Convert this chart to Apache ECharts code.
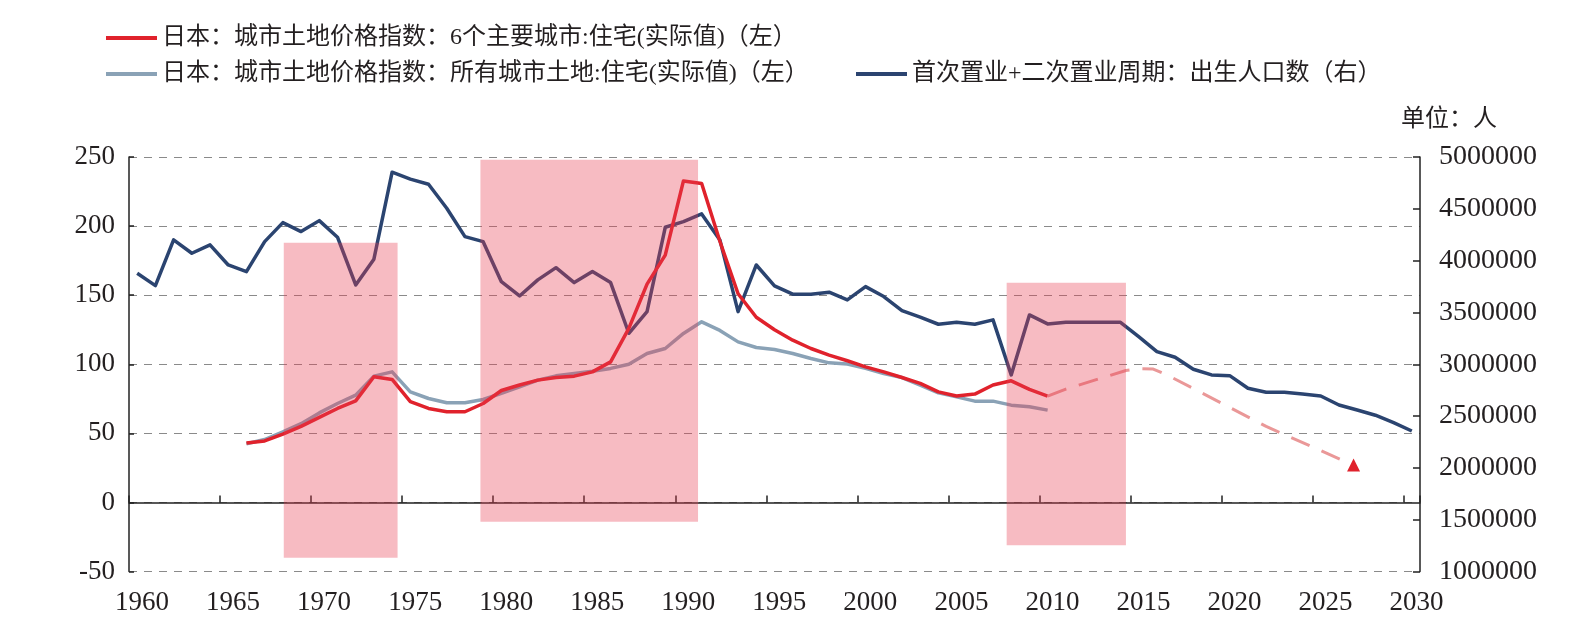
<!DOCTYPE html>
<html>
<head>
<meta charset="utf-8">
<script src="https://cdn.jsdelivr.net/npm/echarts@6/dist/echarts.min.js"></script>
<style>
  html, body { margin: 0; padding: 0; background: #fff; }
  #main { width: 1586px; height: 631px; }
</style>
</head>
<body>
<div id="main"></div>
<script>
  // 日本城市土地价格指数 (左轴)
  var landYears = [1966, 1967, 1968, 1969, 1970, 1971, 1972, 1973, 1974, 1975,
    1976, 1977, 1978, 1979, 1980, 1981, 1982, 1983, 1984, 1985,
    1986, 1987, 1988, 1989, 1990, 1991, 1992, 1993, 1994, 1995,
    1996, 1997, 1998, 1999, 2000, 2001, 2002, 2003, 2004, 2005,
    2006, 2007, 2008, 2009, 2010]
  var sixCities = [43, 44.5, 49.5, 55, 61.5, 68, 73.5, 91, 89, 73,
    68, 65.6, 65.6, 71.6, 81, 85, 88.5, 90.4, 91.4, 94.5,
    101.7, 126, 158, 179, 232.7, 230.8, 189, 151, 134, 125,
    117.4, 111.4, 106.6, 102.5, 98.1, 94.5, 90.4, 86.1, 80, 77,
    78.4, 85, 88, 81.8, 77]
  var allCities = [42.5, 45.5, 51, 57, 64.8, 71.6, 77.6, 91.4, 94.5, 80,
    75.2, 72.1, 72.1, 74.5, 78.9, 83.6, 88.5, 91.6, 93.3, 95,
    97, 100, 107.8, 111.4, 122.3, 130.7, 124.5, 116.2, 112.1, 110.7,
    107.8, 104.2, 101, 100.1, 97, 93.3, 90.4, 84.9, 79.3, 76.4,
    73.3, 73.3, 70.4, 69.2, 66.8]

  // 首次置业+二次置业周期：出生人口数 (右轴)
  var birthYears = [1960, 1961, 1962, 1963, 1964, 1965, 1966, 1967, 1968, 1969,
    1970, 1971, 1972, 1973, 1974, 1975, 1976, 1977, 1978, 1979,
    1980, 1981, 1982, 1983, 1984, 1985, 1986, 1987, 1988, 1989,
    1990, 1991, 1992, 1993, 1994, 1995, 1996, 1997, 1998, 1999,
    2000, 2001, 2002, 2003, 2004, 2005, 2006, 2007, 2008, 2009,
    2010, 2011, 2012, 2013, 2014, 2015, 2016, 2017, 2018, 2019,
    2020, 2021, 2022, 2023, 2024, 2025, 2026, 2027, 2028, 2029, 2030]
  var births = [3878000, 3759000, 4200000, 4071000, 4152000, 3958000, 3894000, 4183000, 4367000, 4280000,
    4386000, 4226000, 3765000, 4014000, 4853000, 4786000, 4737000, 4506000, 4232000, 4183000,
    3797000, 3659000, 3814000, 3932000, 3788000, 3894000, 3788000, 3299000, 3508000, 4322000,
    4377000, 4451000, 4200000, 3508000, 3958000, 3756000, 3676000, 3676000, 3695000, 3621000,
    3749000, 3653000, 3517000, 3454000, 3386000, 3405000, 3386000, 3428000, 2897000, 3476000,
    3389000, 3405000, 3405000, 3405000, 3405000, 3266000, 3122000, 3068000, 2952000, 2897000,
    2890000, 2768000, 2730000, 2730000, 2713000, 2694000, 2607000, 2559000, 2508000, 2436000, 2356000]

  // 预测虚线 (左轴)
  var trendYears = [2010, 2011, 2013.2, 2014.3, 2015, 2015.8, 2016.6, 2022, 2026.8]
  var trendValues = [77, 82, 91, 95.5, 96.8, 96.5, 92, 55, 27]

  // 阴影区间
  var shadeStart = [1968.5, 1979.3, 2008.2]
  var shadeEnd = [1974.75, 1991.25, 2014.75]
  var shadeTop = [188, 248, 159]
  var shadeBottom = [-40, -14, -31]

  var leftTicks = [-50, 250, 50]       // min, max, interval
  var rightTicks = [1000000, 5000000, 500000]

  var MID_YEAR = 0.45 // 数据点画在年中
  var FONT = "'Liberation Serif', 'Noto Sans CJK SC', serif"
  var TEXT = '#231f20'

  function pairs (xs, ys) {
    return xs.map(function (x, i) { return [x + MID_YEAR, ys[i]] })
  }

  var trendData = pairs(trendYears, trendValues)
  var last = trendData.pop()
  trendData.push({ value: last, symbol: 'triangle', symbolSize: 13, itemStyle: { color: '#e0222c' } })

  var shadeData = shadeStart.map(function (s, i) {
    return [s, shadeEnd[i], shadeTop[i], shadeBottom[i]]
  })

  var chart = echarts.init(document.getElementById('main'))
  var legendText = { fontSize: 24, color: TEXT, fontFamily: FONT }
  var option = {
    animation: false,
    backgroundColor: '#fff',
    legend: [
      { left: 106, top: 26, padding: 0, icon: 'rect', itemWidth: 51, itemHeight: 4, selectedMode: false,
        textStyle: legendText, data: ['日本：城市土地价格指数：6个主要城市:住宅(实际值)（左）'] },
      { left: 106, top: 62, padding: 0, icon: 'rect', itemWidth: 51, itemHeight: 4, selectedMode: false,
        textStyle: legendText, data: ['日本：城市土地价格指数：所有城市土地:住宅(实际值)（左）'] },
      { left: 856, top: 62, padding: 0, icon: 'rect', itemWidth: 51, itemHeight: 4, selectedMode: false,
        textStyle: legendText, data: ['首次置业+二次置业周期：出生人口数（右）'] }
    ],
    graphic: [{
      type: 'text', left: 1401, top: 108,
      style: { text: '单位：人', fontSize: 24, fill: TEXT, fontFamily: FONT }
    }],
    grid: { left: 129, right: 166, top: 157, bottom: 59.5, containLabel: false, outerBoundsMode: 'none' },
    xAxis: [
      { // 底部年份标签
        type: 'value', position: 'bottom', min: 1960, max: 2030.9, interval: 5,
        axisLine: { show: false, onZero: false },
        axisTick: { show: false },
        splitLine: { show: false },
        axisLabel: {
          margin: 18, fontSize: 27, color: TEXT, fontFamily: FONT, padding: [0, 0, 0, 26],
          formatter: function (v) { return v % 5 === 0 ? String(v) : '' }
        }
      },
      { // 0 轴线
        type: 'value', position: 'top', min: 1960, max: 2030.9, interval: 5,
        axisLine: { show: true, onZero: true, onZeroAxisIndex: 0, lineStyle: { color: '#222', width: 1.5 } },
        axisTick: { show: true, length: 7, lineStyle: { color: '#222', width: 1.5 } },
        axisLabel: { show: false },
        splitLine: { show: false }
      }
    ],
    yAxis: [
      {
        type: 'value', position: 'left', min: leftTicks[0], max: leftTicks[1], interval: leftTicks[2],
        axisLine: { show: true, lineStyle: { color: '#222', width: 1.5 } },
        axisTick: { show: true, inside: true, length: 5, lineStyle: { color: '#222', width: 1.5 } },
        axisLabel: { margin: 14, fontSize: 27, color: TEXT, fontFamily: FONT },
        splitLine: { show: true, lineStyle: { color: '#8a8a8a', width: 1.2, type: [8, 7] } }
      },
      {
        type: 'value', position: 'right', min: rightTicks[0], max: rightTicks[1], interval: rightTicks[2],
        axisLine: { show: true, lineStyle: { color: '#222', width: 1.5 } },
        axisTick: { show: true, inside: true, length: 7, lineStyle: { color: '#222', width: 1.5 } },
        axisLabel: { margin: 19, fontSize: 28, color: TEXT, fontFamily: FONT,
          formatter: function (v) { return String(v) } },
        splitLine: { show: false }
      }
    ],
    series: [
      {
        name: '首次置业+二次置业周期：出生人口数（右）',
        type: 'line', xAxisIndex: 0, yAxisIndex: 1, z: 2,
        showSymbol: false, symbol: 'none',
        color: '#2b4470',
        lineStyle: { color: '#2b4470', width: 3.5, join: 'round' },
        data: pairs(birthYears, births)
      },
      {
        name: '日本：城市土地价格指数：所有城市土地:住宅(实际值)（左）',
        type: 'line', xAxisIndex: 0, yAxisIndex: 0, z: 3,
        showSymbol: false, symbol: 'none',
        color: '#8aa2b6',
        lineStyle: { color: '#8aa2b6', width: 3.5, join: 'round' },
        data: pairs(landYears, allCities)
      },
      {
        name: '日本：城市土地价格指数：6个主要城市:住宅(实际值)（左）',
        type: 'line', xAxisIndex: 0, yAxisIndex: 0, z: 3,
        showSymbol: false, symbol: 'none',
        color: '#e0222c',
        lineStyle: { color: '#e0222c', width: 3.5, join: 'round' },
        data: pairs(landYears, sixCities)
      },
      {
        name: 'trend',
        type: 'line', xAxisIndex: 0, yAxisIndex: 0, z: 3,
        symbol: 'none', showSymbol: true,
        lineStyle: { color: '#ea9898', width: 3, type: [20, 13], join: 'round' },
        data: trendData
      },
      {
        name: 'shade',
        type: 'custom', xAxisIndex: 0, yAxisIndex: 0, z: 5,
        encode: { x: [0, 1], y: [2, 3] },
        renderItem: function (params, api) {
          var p1 = api.coord([api.value(0), api.value(2)])
          var p2 = api.coord([api.value(1), api.value(3)])
          return {
            type: 'rect',
            shape: { x: p1[0], y: p1[1], width: p2[0] - p1[0], height: p2[1] - p1[1] },
            style: { fill: 'rgba(232, 60, 80, 0.35)' }
          }
        },
        data: shadeData
      }
    ]
  }
  chart.setOption(option)
</script>
</body>
</html>
